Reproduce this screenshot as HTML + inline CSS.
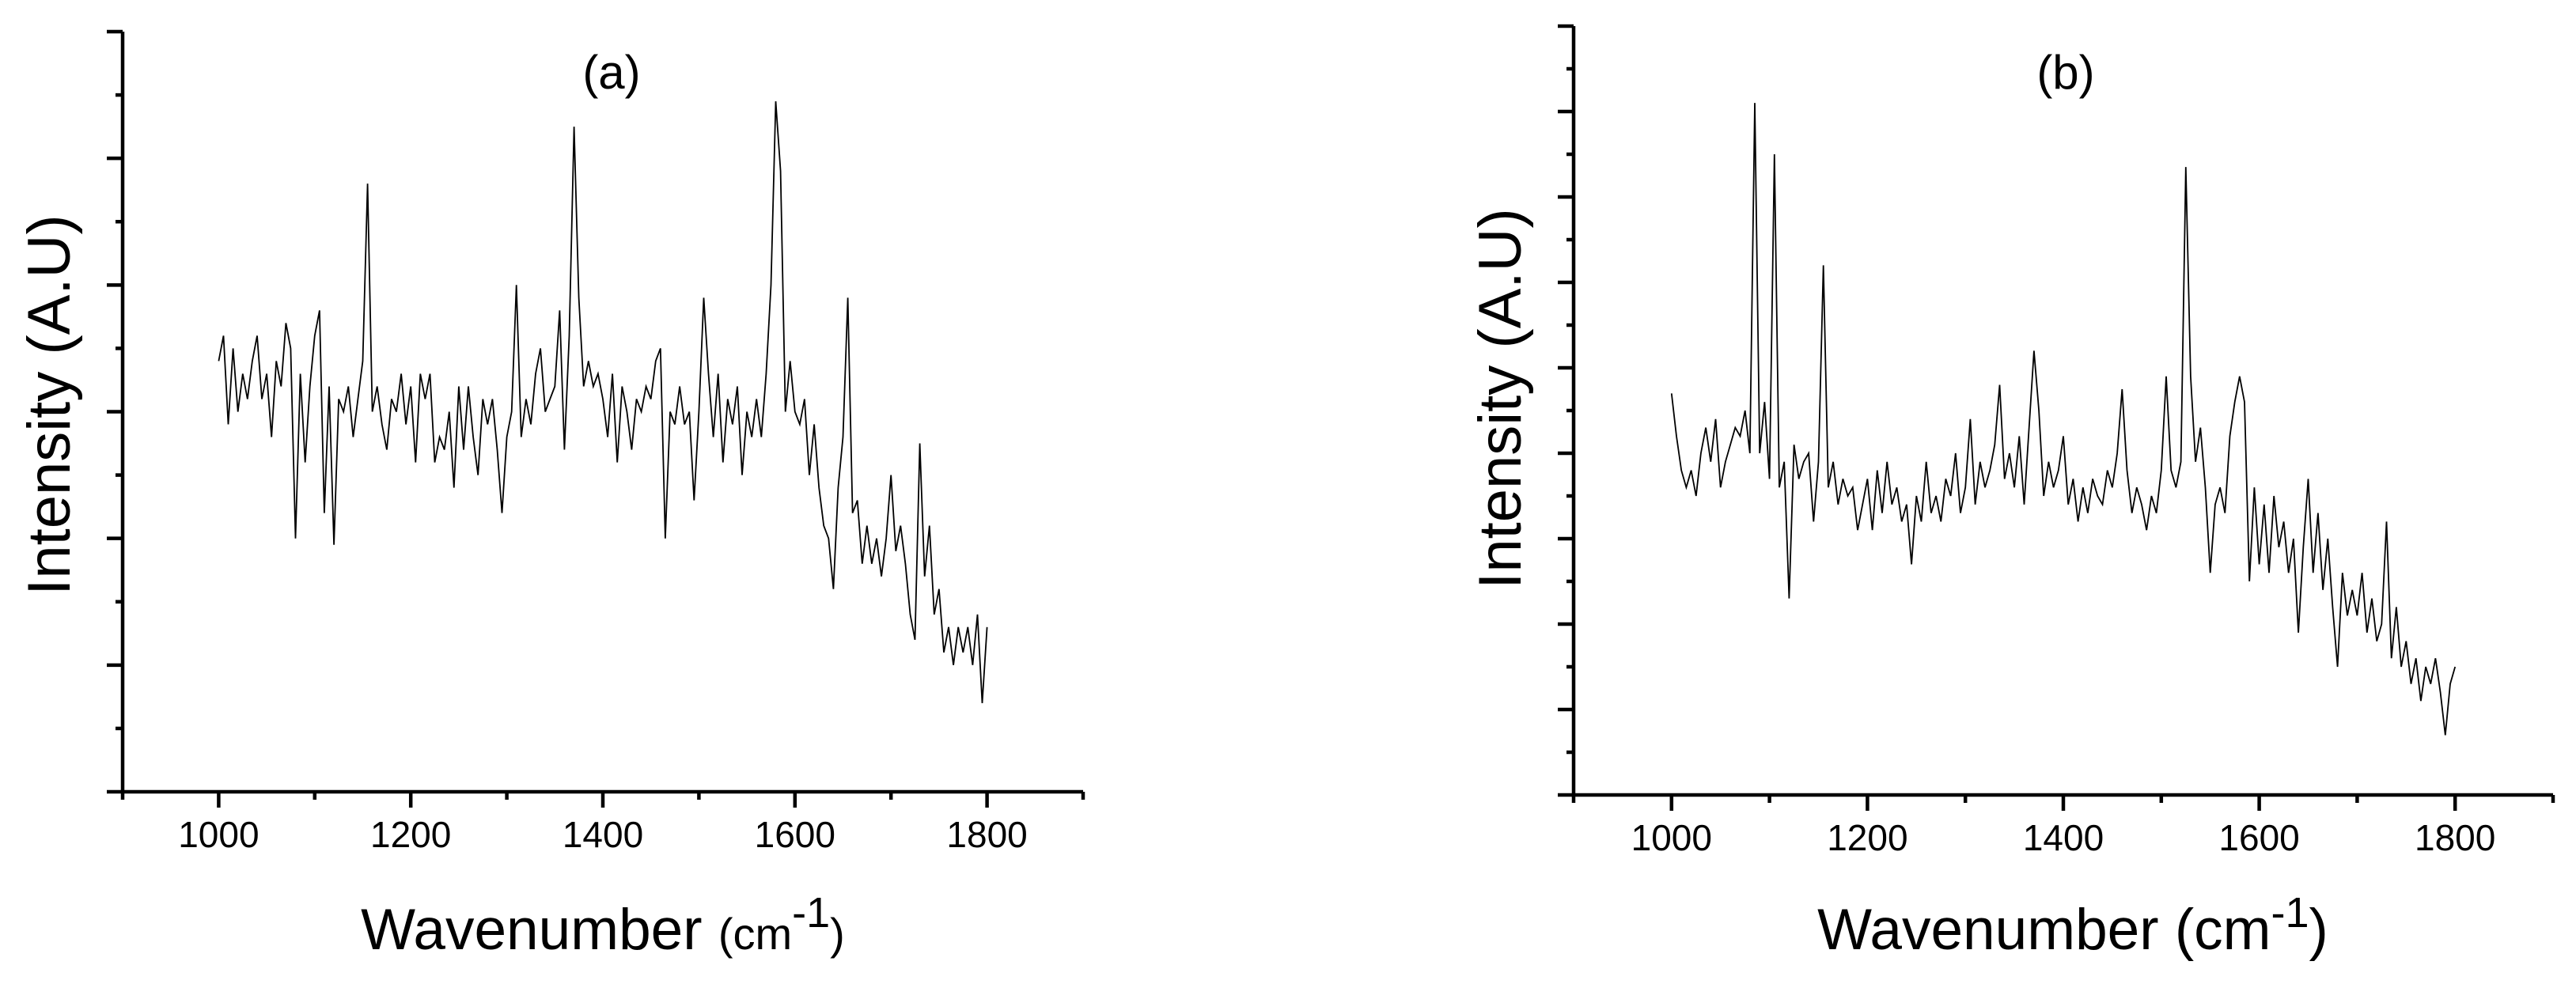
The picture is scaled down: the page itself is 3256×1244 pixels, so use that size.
<!DOCTYPE html>
<html><head><meta charset="utf-8"><title>Raman spectra</title>
<style>
html,body{margin:0;padding:0;background:#fff;}
svg{display:block;font-family:"Liberation Sans",Arial,sans-serif;}
</style></head>
<body>
<svg id="fig" width="3256" height="1244" viewBox="0 0 3256 1244" xmlns="http://www.w3.org/2000/svg">
<rect width="3256" height="1244" fill="#fff"/>
<g id="panelA"></g>
<g id="panelB"></g>
</svg>
<script>
const wavenumbers = [];
for (let w = 1000; w <= 1800; w += 5) wavenumbers.push(w);
const xTickLabels = ["1000","1200","1400","1600","1800"];
const seriesA = [3.4,3.6,2.9,3.5,3.0,3.3,3.1,3.4,3.6,3.1,3.3,2.8,3.4,3.2,3.7,3.5,2.0,3.3,2.6,3.2,3.6,3.8,2.2,3.2,1.95,3.1,3.0,3.2,2.8,3.1,3.4,4.8,3.0,3.2,2.9,2.7,3.1,3.0,3.3,2.9,3.2,2.6,3.3,3.1,3.3,2.6,2.8,2.7,3.0,2.4,3.2,2.7,3.2,2.8,2.5,3.1,2.9,3.1,2.7,2.2,2.8,3.0,4.0,2.8,3.1,2.9,3.3,3.5,3.0,3.1,3.2,3.8,2.7,3.6,5.25,3.9,3.2,3.4,3.2,3.3,3.1,2.8,3.3,2.6,3.2,3.0,2.7,3.1,3.0,3.2,3.1,3.4,3.5,2.0,3.0,2.9,3.2,2.9,3.0,2.3,3.0,3.9,3.3,2.8,3.3,2.6,3.1,2.9,3.2,2.5,3.0,2.8,3.1,2.8,3.3,4.0,5.45,4.9,3.0,3.4,3.0,2.9,3.1,2.5,2.9,2.4,2.1,2.0,1.6,2.4,2.8,3.9,2.2,2.3,1.8,2.1,1.8,2.0,1.7,2.0,2.5,1.9,2.1,1.8,1.4,1.2,2.75,1.7,2.1,1.4,1.6,1.1,1.3,1.0,1.3,1.1,1.3,1.0,1.4,0.7,1.3];
const seriesB = [4.7,4.2,3.8,3.6,3.8,3.5,4.0,4.3,3.9,4.4,3.6,3.9,4.1,4.3,4.2,4.5,4.0,8.1,4.0,4.6,3.7,7.5,3.6,3.9,2.3,4.1,3.7,3.9,4.0,3.2,3.9,6.2,3.6,3.9,3.4,3.7,3.5,3.6,3.1,3.4,3.7,3.1,3.8,3.3,3.9,3.4,3.6,3.2,3.4,2.7,3.5,3.2,3.9,3.3,3.5,3.2,3.7,3.5,4.0,3.3,3.6,4.4,3.4,3.9,3.6,3.8,4.1,4.8,3.7,4.0,3.6,4.2,3.4,4.3,5.2,4.5,3.5,3.9,3.6,3.8,4.2,3.4,3.7,3.2,3.6,3.3,3.7,3.5,3.4,3.8,3.6,4.0,4.75,3.8,3.3,3.6,3.4,3.1,3.5,3.3,3.8,4.9,3.8,3.6,3.9,7.35,4.9,3.9,4.3,3.6,2.6,3.4,3.6,3.3,4.2,4.6,4.9,4.6,2.5,3.6,2.7,3.4,2.6,3.5,2.9,3.2,2.6,3.0,1.9,2.9,3.7,2.6,3.3,2.4,3.0,2.2,1.5,2.6,2.1,2.4,2.1,2.6,1.9,2.3,1.8,2.0,3.2,1.6,2.2,1.5,1.8,1.3,1.6,1.1,1.5,1.3,1.6,1.2,0.7,1.3,1.5];

const NS = "http://www.w3.org/2000/svg";
function mk(parent, tag, attrs) {
  const e = document.createElementNS(NS, tag);
  for (const k in attrs) e.setAttribute(k, attrs[k]);
  parent.appendChild(e);
  return e;
}

function drawPanel(g, cfg, values, key) {
  const xs = v => cfg.x0 + (v - 900) * (cfg.x1 - cfg.x0) / 1000;
  const ys = v => cfg.yb - v * (cfg.yb - cfg.yt) / cfg.ymax;
  const ax = mk(g, "path", {d:`M${cfg.x0} ${cfg.yt} V${cfg.yb} H${cfg.x1}`, fill:"none", stroke:"#000", "stroke-width":4.5});
  
  
  for (let i = 0; i <= cfg.ymax * 2; i++) {
    const y = ys(i / 2);
    const len = i % 2 === 0 ? 20 : 9;
    const t = mk(g, "line", {x1:cfg.x0 - len, x2:cfg.x0, y1:y, y2:y, stroke:"#000", "stroke-width":4.5});
    
    
  }
  for (let v = 900; v <= 1900; v += 100) {
    const x = xs(v);
    const len = v % 200 === 0 ? 20 : 10;
    const t = mk(g, "line", {x1:x, x2:x, y1:cfg.yb, y2:cfg.yb + len, stroke:"#000", "stroke-width":4.5});
    
    
  }
  xTickLabels.forEach(lbl => {
    const t = mk(g, "text", {x:xs(+lbl), y:cfg.yb + 70, "font-size":46, "text-anchor":"middle"});
    t.textContent = lbl;
    
    
  });
  const d = values.map((v, i) => (i ? "L" : "M") + xs(wavenumbers[i]).toFixed(1) + " " + ys(v).toFixed(1)).join("");
  const p = mk(g, "path", {d:d, fill:"none", stroke:"#000", "stroke-width":1.8, "stroke-linejoin":"miter"});
  
  
  const pl = mk(g, "text", {x:cfg.labX, y:112, "font-size":60, "text-anchor":"middle"});
  pl.textContent = cfg.label;
  
  
  const yt = mk(g, "text", {x:0, y:0, "font-size":76, "text-anchor":"middle", transform:`translate(${cfg.ytX},${cfg.ytY}) rotate(-90)`});
  yt.textContent = "Intensity (A.U)";
  
  
  const xt = mk(g, "text", {x:cfg.xtX, y:1200, "font-size":73, "text-anchor":"middle"});
  
  
  const s1 = mk(xt, "tspan", {}); s1.textContent = "Wavenumber ";
  const s2 = mk(xt, "tspan", {"font-size":cfg.smallParen ? 56 : 73}); s2.textContent = "(cm";
  const s3 = mk(xt, "tspan", {dy:-28, "font-size":54}); s3.textContent = "-1";
  const s4 = mk(xt, "tspan", {dy:28, "font-size":cfg.smallParen ? 56 : 73}); s4.textContent = ")";
}

drawPanel(document.getElementById("panelA"),
  {x0:155, x1:1369, yt:40, yb:1001, ymax:6, label:"(a)", labX:773, ytX:88, ytY:512, xtX:762, smallParen:true},
  seriesA, "panel-a");
drawPanel(document.getElementById("panelB"),
  {x0:1989, x1:3227, yt:33, yb:1005, ymax:9, label:"(b)", labX:2611, ytX:1922, ytY:504, xtX:2620, smallParen:false},
  seriesB, "panel-b");
</script>
</body></html>
